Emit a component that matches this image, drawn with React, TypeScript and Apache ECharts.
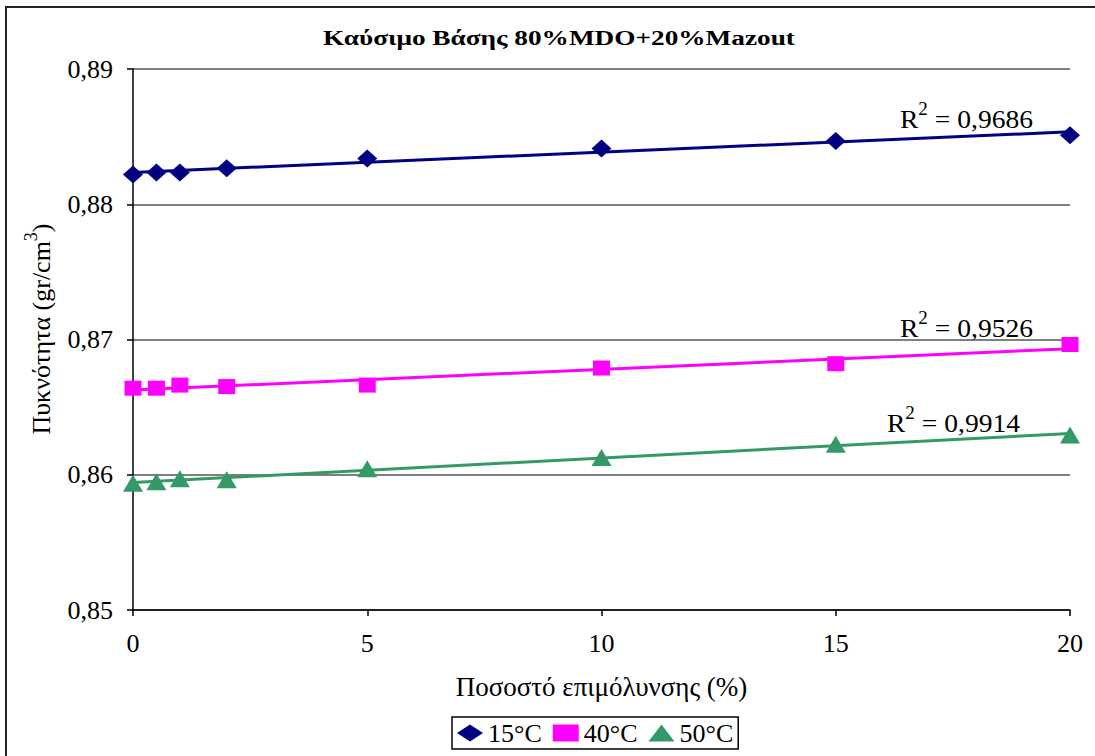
import React, { useEffect, useRef } from "react";
import * as echarts from "echarts";

const xValues = [0, 0.5, 1, 2, 5, 10, 15, 20];
const density15 = [0.8822, 0.88235, 0.88235, 0.88267, 0.88338, 0.88412, 0.88467, 0.88511];
const density40 = [0.8664, 0.8664, 0.86663, 0.86652, 0.86663, 0.86789, 0.86821, 0.86963];
const density50 = [0.85938, 0.85948, 0.8597, 0.85963, 0.86045, 0.86127, 0.86226, 0.86293];
const seriesNames = ["15°C", "40°C", "50°C"];
const r2Values = ["0,9686", "0,9526", "0,9914"];
const titleText = "Καύσιμο Βάσης 80%MDO+20%Mazout";
const xAxisName = "Ποσοστό επιμόλυνσης (%)";
const yAxisName = "Πυκνότητα (gr/cm";

const FONT = "'Liberation Serif', 'Times New Roman', serif";

function linearTrend(xs: number[], ys: number[]): number[][] {
  const n = xs.length;
  const mx = xs.reduce((a, b) => a + b, 0) / n;
  const my = ys.reduce((a, b) => a + b, 0) / n;
  let sxy = 0;
  let sxx = 0;
  for (let i = 0; i < n; i++) {
    sxy += (xs[i] - mx) * (ys[i] - my);
    sxx += (xs[i] - mx) * (xs[i] - mx);
  }
  const slope = sxy / sxx;
  const b = my - slope * mx;
  const x0 = Math.min(...xs);
  const x1 = Math.max(...xs);
  return [
    [x0, b + slope * x0],
    [x1, b + slope * x1],
  ];
}

export default function App() {
  const ref = useRef<HTMLDivElement>(null);
  useEffect(() => {
    if (!ref.current) return;
    const chart = echarts.init(ref.current, undefined, { renderer: "svg" });
    const colors = ["#000080", "#FF00FF", "#339966"];
    const symbols = ["diamond", "rect", "triangle"];
    const sizes = [
      [20, 18],
      [17, 15],
      [20, 17],
    ];
    const datasets = [density15, density40, density50];
    const scatterSeries = datasets.map((d, i) => ({
      type: "scatter",
      name: seriesNames[i],
      data: xValues.map((x, j) => [x, d[j]]),
      symbol: symbols[i],
      symbolSize: sizes[i],
      itemStyle: { color: colors[i], opacity: 1 },
      z: 5,
    }));
    const trendSeries = datasets.map((d, i) => ({
      type: "line",
      name: "trend" + i,
      data: linearTrend(xValues, d),
      showSymbol: false,
      symbol: "none",
      lineStyle: { color: colors[i], width: 3 },
      z: 3,
      silent: true,
    }));
    const r2Pos = [
      { x: 1033, y: 116 },
      { x: 1033, y: 325 },
      { x: 1020, y: 420 },
    ];
    const rich = {
      b: { fontSize: 26, fontFamily: FONT, color: "#000", verticalAlign: "bottom", lineHeight: 32 },
      s: { fontSize: 18, fontFamily: FONT, color: "#000", verticalAlign: "top", lineHeight: 18 },
    };
    const option: any = {
      animation: false,
      backgroundColor: "#fff",
      grid: { left: 133, right: 25, top: 69, bottom: 146, containLabel: false },
      xAxis: {
        type: "value",
        min: 0,
        max: 20,
        interval: 5,
        name: xAxisName,
        nameLocation: "middle",
        nameGap: 63,
        nameTextStyle: { fontFamily: FONT, fontSize: 27, color: "#000" },
        axisLine: { show: true, onZero: false, lineStyle: { color: "#000", width: 1.5 } },
        axisTick: { show: true, length: 6, lineStyle: { color: "#000", width: 1.5 } },
        axisLabel: { fontFamily: FONT, fontSize: 26, color: "#000", margin: 20 },
        splitLine: { show: false },
      },
      yAxis: {
        type: "value",
        min: 0.85,
        max: 0.89,
        interval: 0.01,
        axisLine: { show: true, lineStyle: { color: "#000", width: 1.5 } },
        axisTick: { show: true, length: 6, lineStyle: { color: "#000", width: 1.5 } },
        axisLabel: {
          fontFamily: FONT,
          fontSize: 26,
          color: "#000",
          margin: 20,
          formatter: (v: number) => v.toFixed(2).replace(".", ","),
        },
        splitLine: { show: true, lineStyle: { color: "#555", width: 1.5 } },
      },
      legend: {
        data: seriesNames,
        left: 452,
        top: 717,
        orient: "horizontal",
        borderColor: "#000",
        borderWidth: 1.5,
        borderRadius: 0,
        padding: [3, 5],
        itemWidth: 26,
        itemHeight: 17,
        itemGap: 11,
        textStyle: { fontFamily: FONT, fontSize: 26, color: "#000" },
      },
      series: [...trendSeries, ...scatterSeries],
      graphic: [
        {
          type: "rect",
          shape: { x: 6, y: 7, width: 1100, height: 780 },
          style: { fill: "none", stroke: "#222", lineWidth: 2 },
          silent: true,
        },
        {
          type: "text",
          x: 559,
          y: 37,
          scaleX: 1.24,
          style: {
            text: titleText,
            fontFamily: FONT,
            fontSize: 22,
            fontWeight: "bold",
            fill: "#000",
            textAlign: "center",
            textVerticalAlign: "middle",
          },
        },
        {
          type: "text",
          x: 38,
          y: 329,
          rotation: Math.PI / 2,
          style: {
            text: "{b|" + yAxisName + "}{s|3}{b|)}",
            rich,
            textAlign: "center",
            textVerticalAlign: "middle",
          },
        },
        ...r2Values.map((r, i) => ({
          type: "text",
          x: r2Pos[i].x,
          y: r2Pos[i].y,
          scaleX: 1.06,
          style: {
            text: "{b|R}{s|2}{b| = " + r + "}",
            rich,
            textAlign: "right",
            textVerticalAlign: "middle",
          },
        })),
      ],
    };
    chart.setOption(option);
    return () => chart.dispose();
  }, []);
  return (
    <div
      ref={ref}
      style={{ position: "absolute", left: 0, top: 0, width: 1095, height: 756 }}
    />
  );
}
